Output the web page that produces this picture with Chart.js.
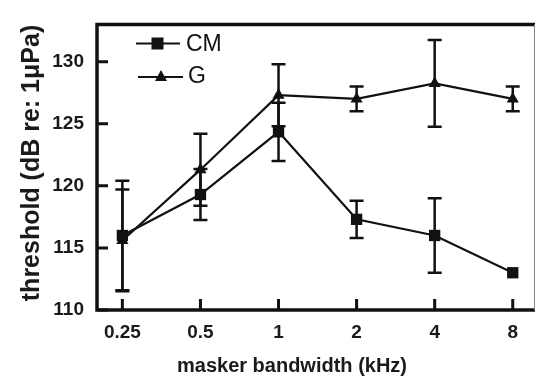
<!DOCTYPE html>
<html>
<head>
<meta charset="utf-8">
<script src="https://cdn.jsdelivr.net/npm/chart.js@4"></script>
<style>
body { margin: 0; background: #fff; }
</style>
</head>
<body>
<canvas id="myChart" width="543" height="376"></canvas>
<script>
var bandwidths = ['0.25', '0.5', '1', '2', '4', '8'];
var cmValues = [116.0, 119.3, 124.35, 117.3, 116.0, 113.0];
var cmErrors = [4.4, 2.05, 2.35, 1.5, 3.0, 0];
var gValues = [115.6, 121.3, 127.3, 127.0, 128.25, 127.0];
var gErrors = [4.1, 2.9, 2.5, 1.0, 3.5, 1.0];
var yTicks = [110, 115, 120, 125, 130];

var fontFamily = "'Liberation Sans', Arial, sans-serif";
var ink = '#111';

function toPoints(values) {
    return values.map(function (v, i) { return { x: i, y: v }; });
}

// error bars, drawn under the markers
var errorBars = {
    id: 'errorBars',
    beforeDatasetsDraw: function (chart) {
        var ctx = chart.ctx;
        var x = chart.scales.x, y = chart.scales.y;
        ctx.save();
        ctx.strokeStyle = ink;
        ctx.lineWidth = 2.5;
        chart.data.datasets.forEach(function (ds) {
            ds.data.forEach(function (p, i) {
                var e = ds.errors[i];
                if (!e) return;
                var px = x.getPixelForValue(p.x);
                var top = y.getPixelForValue(p.y + e);
                var bot = y.getPixelForValue(p.y - e);
                ctx.beginPath();
                ctx.moveTo(px, top); ctx.lineTo(px, bot);
                ctx.moveTo(px - 7, top); ctx.lineTo(px + 7, top);
                ctx.moveTo(px - 7, bot); ctx.lineTo(px + 7, bot);
                ctx.stroke();
            });
        });
        ctx.restore();
    }
};

// frame, inward ticks, legend and axis titles
var decorations = {
    id: 'decorations',
    afterDraw: function (chart) {
        var ctx = chart.ctx;
        var a = chart.chartArea;
        var x = chart.scales.x, y = chart.scales.y;
        ctx.save();
        ctx.strokeStyle = ink;
        ctx.lineCap = 'butt';

        ctx.lineWidth = 3.5;
        ctx.beginPath();
        ctx.moveTo(a.right, a.top); ctx.lineTo(a.left, a.top);
        ctx.lineTo(a.left, a.bottom); ctx.lineTo(a.right, a.bottom);
        ctx.stroke();
        ctx.strokeStyle = '#888';
        ctx.lineWidth = 1;
        ctx.beginPath();
        ctx.moveTo(a.right - 0.5, a.top); ctx.lineTo(a.right - 0.5, a.bottom);
        ctx.stroke();

        ctx.strokeStyle = ink;
        ctx.lineWidth = 3;
        ctx.beginPath();
        yTicks.forEach(function (v) {
            var py = y.getPixelForValue(v);
            ctx.moveTo(a.left, py); ctx.lineTo(a.left + 11, py);
        });
        bandwidths.forEach(function (l, i) {
            var px = x.getPixelForValue(i);
            ctx.moveTo(px, a.bottom); ctx.lineTo(px, a.bottom - 11);
        });
        ctx.stroke();

        // legend
        ctx.lineWidth = 2.2;
        ctx.fillStyle = ink;
        ctx.beginPath();
        ctx.moveTo(136, 43.5); ctx.lineTo(180, 43.5);
        ctx.moveTo(138, 77); ctx.lineTo(183, 77);
        ctx.stroke();
        ctx.fillRect(151.5, 37.5, 12, 12);
        ctx.beginPath();
        ctx.moveTo(161, 70); ctx.lineTo(167, 81); ctx.lineTo(155, 81);
        ctx.closePath();
        ctx.fill();
        ctx.font = '23px ' + fontFamily;
        ctx.textBaseline = 'middle';
        ctx.textAlign = 'left';
        ctx.fillText(chart.data.datasets[0].label, 186, 44.5);
        ctx.fillText(chart.data.datasets[1].label, 188, 76.5);

        // axis titles
        ctx.fillStyle = '#1a1a1a';
        ctx.textAlign = 'center';
        ctx.textBaseline = 'alphabetic';
        ctx.font = 'bold 20px ' + fontFamily;
        ctx.fillText('masker bandwidth (kHz)', 292, 372);
        ctx.translate(39, 163);
        ctx.rotate(-Math.PI / 2);
        ctx.font = 'bold 25px ' + fontFamily;
        ctx.fillText('threshold (dB re: 1\u03bcPa)', 0, 0);
        ctx.restore();
    }
};

var ctx1 = document.getElementById('myChart').getContext('2d');
var myChart = new Chart(ctx1, {
    type: 'line',
    data: {
        datasets: [{
            label: 'CM',
            data: toPoints(cmValues),
            errors: cmErrors,
            borderColor: ink,
            backgroundColor: ink,
            borderWidth: 2.2,
            pointStyle: 'rect',
            pointRadius: 8,
            pointBorderWidth: 0,
            clip: false
        }, {
            label: 'G',
            data: toPoints(gValues),
            errors: gErrors,
            borderColor: ink,
            backgroundColor: ink,
            borderWidth: 2.2,
            pointStyle: 'triangle',
            pointRadius: 7,
            pointBorderWidth: 0,
            clip: false
        }]
    },
    options: {
        responsive: false,
        animation: false,
        devicePixelRatio: 1,
        layout: { padding: { top: 15, right: 1.5, left: 0, bottom: 0 } },
        plugins: { legend: { display: false }, tooltip: { enabled: false } },
        scales: {
            x: {
                type: 'linear',
                min: -0.325,
                max: 5.285,
                grid: { display: false, drawTicks: false },
                border: { display: false },
                afterBuildTicks: function (s) {
                    s.ticks = bandwidths.map(function (l, i) { return { value: i }; });
                },
                afterFit: function (s) { s.height = 66; },
                ticks: {
                    padding: 11,
                    color: '#1a1a1a',
                    font: { family: fontFamily, size: 19, weight: 'bold' },
                    callback: function (v) { return bandwidths[v]; }
                }
            },
            y: {
                type: 'linear',
                min: 110,
                max: 133,
                grid: { display: false, drawTicks: false },
                border: { display: false },
                afterBuildTicks: function (s) {
                    s.ticks = yTicks.map(function (v) { return { value: v }; });
                },
                afterFit: function (s) { s.width = 97; },
                ticks: {
                    padding: 13,
                    color: '#1a1a1a',
                    font: { family: fontFamily, size: 19, weight: 'bold' }
                }
            }
        }
    },
    plugins: [errorBars, decorations]
});
</script>
</body>
</html>
